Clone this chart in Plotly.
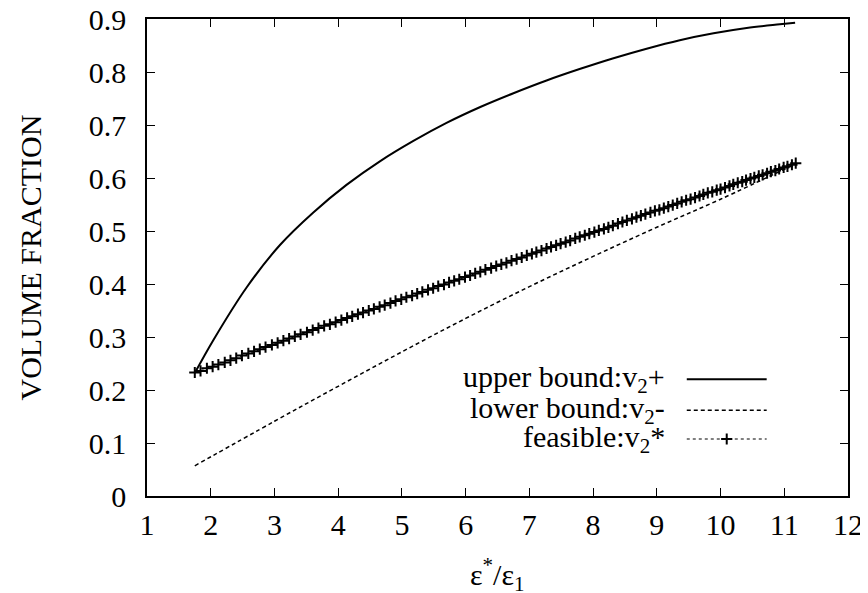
import plotly.graph_objects as go

# ---------------- data ----------------
upper_x = [1.75, 2.04, 2.56, 3.09, 3.61, 4.13, 4.66, 5.18, 5.70, 6.23,
           6.75, 7.27, 7.80, 8.32, 8.84, 9.36, 9.89, 10.41, 10.93, 11.17]
upper_y = [0.232, 0.294, 0.393, 0.474, 0.535, 0.587, 0.632, 0.670, 0.704, 0.734,
           0.760, 0.784, 0.806, 0.826, 0.844, 0.860, 0.873, 0.883, 0.890, 0.893]

lower_x = [1.75, 3.0, 4.0, 5.0, 6.0, 7.0, 8.0, 9.0, 10.0, 11.15]
lower_y = [0.057, 0.141, 0.207, 0.272, 0.335, 0.395, 0.452, 0.507, 0.560, 0.625]

feas_x = [1.75, 1.84, 1.94, 2.03, 2.12, 2.22, 2.31, 2.40, 2.49, 2.59, 2.68, 2.77, 2.86,
          2.96, 3.05, 3.14, 3.23, 3.32, 3.41, 3.51, 3.60, 3.69, 3.78, 3.87, 3.96,
          4.05, 4.14, 4.22, 4.31, 4.39, 4.48, 4.56, 4.65, 4.73, 4.82, 4.90, 4.99,
          5.07, 5.16, 5.24, 5.32, 5.41, 5.49, 5.57, 5.66, 5.74, 5.82, 5.90, 5.99,
          6.07, 6.15, 6.23, 6.31, 6.40, 6.48, 6.56, 6.64, 6.72, 6.80, 6.88, 6.96,
          7.04, 7.11, 7.19, 7.27, 7.34, 7.42, 7.49, 7.57, 7.64, 7.72, 7.79, 7.87,
          7.94, 8.02, 8.09, 8.17, 8.24, 8.31, 8.39, 8.46, 8.53, 8.61, 8.68, 8.75,
          8.82, 8.90, 8.97, 9.04, 9.11, 9.18, 9.25, 9.32, 9.39, 9.46,
          9.53, 9.60, 9.67, 9.73, 9.80, 9.87, 9.94, 10.00, 10.07, 10.14, 10.20,
          10.27, 10.34, 10.40, 10.47, 10.53, 10.60, 10.66, 10.73, 10.79, 10.86,
          10.92, 10.99, 11.05, 11.12, 11.18]
feas_y = [0.233, 0.236, 0.241, 0.244, 0.248, 0.252, 0.256, 0.260, 0.265, 0.269, 0.273, 0.277, 0.281,
          0.285, 0.289, 0.293, 0.297, 0.301, 0.305, 0.309, 0.313, 0.317, 0.321, 0.324, 0.328,
          0.332, 0.336, 0.339, 0.343, 0.346, 0.350, 0.353, 0.357, 0.360, 0.364, 0.368, 0.371,
          0.375, 0.378, 0.382, 0.385, 0.389, 0.392, 0.396, 0.399, 0.403, 0.406, 0.409, 0.413,
          0.416, 0.420, 0.423, 0.427, 0.430, 0.434, 0.437, 0.440, 0.444, 0.447, 0.450, 0.454,
          0.457, 0.460, 0.463, 0.467, 0.470, 0.473, 0.476, 0.479, 0.482, 0.486, 0.489, 0.492,
          0.495, 0.498, 0.501, 0.504, 0.507, 0.510, 0.514, 0.517, 0.520, 0.523, 0.526, 0.529,
          0.532, 0.535, 0.538, 0.540, 0.543, 0.546, 0.549, 0.552, 0.555, 0.558,
          0.560, 0.563, 0.566, 0.569, 0.572, 0.574, 0.577, 0.579, 0.582, 0.585, 0.588,
          0.591, 0.593, 0.596, 0.599, 0.601, 0.604, 0.606, 0.609, 0.612, 0.614,
          0.617, 0.620, 0.622, 0.625, 0.628]

x_ticks = [1, 2, 3, 4, 5, 6, 7, 8, 9, 10, 11, 12]
y_ticks = [0, 0.1, 0.2, 0.3, 0.4, 0.5, 0.6, 0.7, 0.8, 0.9]
y_tick_labels = ["0", "0.1", "0.2", "0.3", "0.4", "0.5", "0.6", "0.7", "0.8", "0.9"]

legend_labels = ["upper bound:v<sub>2</sub>+",
                 "lower bound:v<sub>2</sub>-",
                 "feasible:v<sub>2</sub>*"]
x_title = "ε<sup>*</sup>/ε<sub>1</sub>"
y_title = "VOLUME FRACTION"

FONT = "Liberation Serif"
FS = 30
BLACK = "#000000"

fig = go.Figure()

fig.add_trace(go.Scatter(x=upper_x, y=upper_y, mode="lines", line_shape="spline",
                         line=dict(color=BLACK, width=2), showlegend=False))
fig.add_trace(go.Scatter(x=lower_x, y=lower_y, mode="lines", line_shape="spline",
                         line=dict(color=BLACK, width=1.5, dash="4px,3px"), showlegend=False))
fig.add_trace(go.Scatter(x=feas_x, y=feas_y, mode="lines+markers",
                         line=dict(color=BLACK, width=1, dash="dot"),
                         marker=dict(symbol="cross-thin", size=8, color=BLACK,
                                     line=dict(color=BLACK, width=2)),
                         showlegend=False))

# ---------------- hand-made legend (text left, sample right) ----------------
rows = [0.245, 0.180, 0.1195]
sx0, sx1, tx = 0.770, 0.884, 0.742
styles = [dict(color=BLACK, width=2),
          dict(color=BLACK, width=1.5, dash="4px,3px"),
          dict(color=BLACK, width=1, dash="dot")]
for lab, ry, st in zip(legend_labels, rows, styles):
    fig.add_annotation(x=tx, y=ry, xref="paper", yref="paper", text=lab,
                       showarrow=False, xanchor="right", yanchor="middle",
                       font=dict(family=FONT, size=FS, color=BLACK))
    fig.add_trace(go.Scatter(x=[sx0, sx1], y=[ry, ry], mode="lines", line=st,
                             xaxis="x2", yaxis="y2", showlegend=False, hoverinfo="skip"))
fig.add_trace(go.Scatter(x=[(sx0 + sx1) / 2], y=[rows[2]], mode="markers",
                         marker=dict(symbol="cross-thin", size=8, color=BLACK,
                                     line=dict(color=BLACK, width=2)),
                         xaxis="x2", yaxis="y2", showlegend=False, hoverinfo="skip"))

# axis titles as annotations (exact placement)
fig.add_annotation(x=0, y=0.5, xref="paper", yref="paper", text=y_title,
                   textangle=-90, showarrow=False, xanchor="center", yanchor="middle",
                   xshift=-117, font=dict(family=FONT, size=30, color=BLACK))
fig.add_annotation(x=0.5, y=0, xref="paper", yref="paper", text=x_title,
                   showarrow=False, xanchor="center", yanchor="middle",
                   yshift=-78, font=dict(family=FONT, size=FS, color=BLACK))

axis_common = dict(showgrid=False, zeroline=False, showline=True, linecolor=BLACK,
                   linewidth=1.5, mirror="allticks", ticks="inside", ticklen=8,
                   tickwidth=1.2, tickcolor=BLACK, automargin=False,
                   ticklabeloverflow="allow",
                   tickfont=dict(family=FONT, size=FS, color=BLACK))

# the page adds an 8px body margin, so the figure is sized/margined to compensate
fig.update_layout(
    template="none",
    width=860, height=585,
    margin=dict(l=139, r=20, t=11, b=97, pad=0),
    paper_bgcolor="white", plot_bgcolor="white",
    font=dict(family=FONT, size=FS, color=BLACK),
    xaxis=dict(range=[1, 12], tickvals=x_ticks, ticklabelstandoff=1, **axis_common),
    yaxis=dict(range=[0, 0.9], tickvals=y_ticks, ticktext=y_tick_labels,
               ticklabelstandoff=13, **axis_common),
    xaxis2=dict(range=[0, 1], overlaying="x", visible=False, fixedrange=True),
    yaxis2=dict(range=[0, 1], overlaying="y", visible=False, fixedrange=True),
    showlegend=False,
)

fig.write_html("out.html")
